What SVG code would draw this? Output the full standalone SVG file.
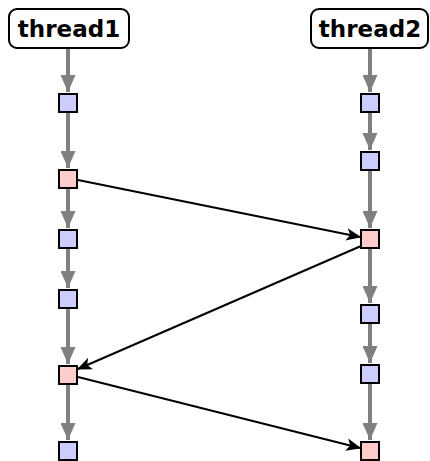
<svg xmlns="http://www.w3.org/2000/svg" width="430" height="461" viewBox="0 0 430 461">
<defs>
<marker id="ga" viewBox="0 0 17 15" refX="17" refY="7.5" markerWidth="4.25" markerHeight="3.75" markerUnits="strokeWidth" orient="auto">
<path d="M0,0 L17,7.5 L0,15 z" fill="#808080"/>
</marker>
<marker id="ba" viewBox="0 0 12 10" refX="11" refY="5" markerWidth="7.5" markerHeight="6.5" markerUnits="strokeWidth" orient="auto">
<path d="M0,0 L12,5 L0,10 L3,5 z" fill="#000"/>
</marker>
</defs>
<style>
.lbl{fill:#fff;stroke:#000;stroke-width:2}
.t{font-family:"DejaVu Sans",sans-serif;font-weight:bold;font-size:23px;text-anchor:middle;fill:#000}
.b{fill:#ccccff;stroke:#000;stroke-width:2}
.p{fill:#ffcccc;stroke:#000;stroke-width:2}
.g{stroke:#808080;stroke-width:4;fill:none;marker-end:url(#ga)}
.k{stroke:#000;stroke-width:2;fill:none;marker-end:url(#ba)}
</style>
<g id="connectors">
<line class="g" x1="68" y1="49" x2="68" y2="92"/>
<line class="g" x1="68" y1="113" x2="68" y2="168"/>
<line class="g" x1="68" y1="189" x2="68" y2="228"/>
<line class="g" x1="68" y1="249" x2="68" y2="288"/>
<line class="g" x1="68" y1="309" x2="68" y2="364"/>
<line class="g" x1="68" y1="385" x2="68" y2="440"/>
<line class="g" x1="370" y1="49" x2="370" y2="92"/>
<line class="g" x1="370" y1="113" x2="370" y2="150"/>
<line class="g" x1="370" y1="171" x2="370" y2="228"/>
<line class="g" x1="370" y1="249" x2="370" y2="303"/>
<line class="g" x1="370" y1="324" x2="370" y2="363"/>
<line class="g" x1="370" y1="384" x2="370" y2="440"/>
<line class="k" x1="78" y1="180" x2="360" y2="237"/>
<line class="k" x1="361" y1="246" x2="78" y2="369"/>
<line class="k" x1="78" y1="377" x2="360" y2="448"/>
</g>
<g id="thread1">
<rect class="lbl" x="9" y="9" width="120" height="39" rx="8"/>
<text class="t" x="69" y="37">thread1</text>
</g>
<g id="thread2">
<rect class="lbl" x="311" y="9" width="117" height="39" rx="8"/>
<text class="t" x="370" y="37">thread2</text>
</g>
<g id="a1"><rect class="b" x="59" y="94" width="18" height="18"/></g>
<g id="a2"><rect class="p" x="59" y="170" width="18" height="18"/></g>
<g id="a3"><rect class="b" x="59" y="230" width="18" height="18"/></g>
<g id="a4"><rect class="b" x="59" y="290" width="18" height="18"/></g>
<g id="a5"><rect class="p" x="59" y="366" width="18" height="18"/></g>
<g id="a6"><rect class="b" x="59" y="442" width="18" height="18"/></g>
<g id="b1"><rect class="b" x="361" y="94" width="18" height="18"/></g>
<g id="b2"><rect class="b" x="361" y="152" width="18" height="18"/></g>
<g id="b3"><rect class="p" x="361" y="230" width="18" height="18"/></g>
<g id="b4"><rect class="b" x="361" y="305" width="18" height="18"/></g>
<g id="b5"><rect class="b" x="361" y="365" width="18" height="18"/></g>
<g id="b6"><rect class="p" x="361" y="442" width="18" height="18"/></g>
</svg>
